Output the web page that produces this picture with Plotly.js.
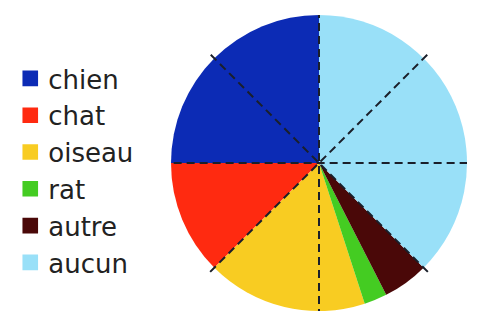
<!DOCTYPE html>
<html>
<head>
<meta charset="utf-8">
<script src="https://cdn.plot.ly/plotly-3.0.1.min.js"></script>
<style>
html,body{margin:0;padding:0;background:#fff;}
#chart{width:486px;height:316px;}
.legend .legendpoints path{transform:translate(22px,0px) scale(1.3);}
</style>
</head>
<body>
<div id="chart"></div>
<script>
// Data
var labels = ["chien", "chat", "oiseau", "rat", "autre", "aucun"];
var values = [25, 12.5, 17.5, 2.5, 5, 37.5];
var colors = ["#0c2bb5", "#ff2a10", "#f8cc22", "#44cc22", "#4a0808", "#99e0f8"];
// Guide lines (angles in degrees) drawn across the pie
var guideAngles = [0, 45, 90, 135];
var guideLength = [1.07, 1.04, 1.04, 1.04];

var domX = [171/486, 467/486];
var domY = [5/316, 301/316];

var pie = {
  type: "pie",
  labels: labels,
  values: values,
  sort: false,
  direction: "counterclockwise",
  rotation: -90,
  marker: {colors: colors, line: {width: 0}},
  textinfo: "none",
  hoverinfo: "label+percent",
  domain: {x: domX, y: domY}
};

var shapes = guideAngles.map(function(a, i){
  var r = a * Math.PI / 180, L = guideLength[i];
  return {
    type: "line", xref: "x", yref: "y", layer: "above",
    x0: -L*Math.cos(r), y0: -L*Math.sin(r),
    x1: L*Math.cos(r), y1: L*Math.sin(r),
    line: {color: "#1a1f2a", width: 2, dash: "8px,5px"}
  };
});

var anchor = {
  type: "scatter", mode: "none", x: [], y: [],
  hoverinfo: "skip", showlegend: false
};

var layout = {
  width: 486, height: 316,
  margin: {l: 0, r: 0, t: 0, b: 0},
  paper_bgcolor: "#fff",
  plot_bgcolor: "rgba(0,0,0,0)",
  showlegend: true,
  legend: {
    x: 0.017, y: 0.826, xanchor: "left", yanchor: "top",
    font: {family: "DejaVu Sans", size: 26, color: "#222"},
    bgcolor: "rgba(0,0,0,0)",
    itemclick: false
  },
  xaxis: {domain: domX, range: [-1, 1], visible: false, fixedrange: true},
  yaxis: {domain: domY, range: [-1, 1], visible: false, fixedrange: true},
  shapes: shapes
};

Plotly.newPlot("chart", [pie, anchor], layout, {staticPlot: true, displayModeBar: false});
</script>
</body>
</html>
